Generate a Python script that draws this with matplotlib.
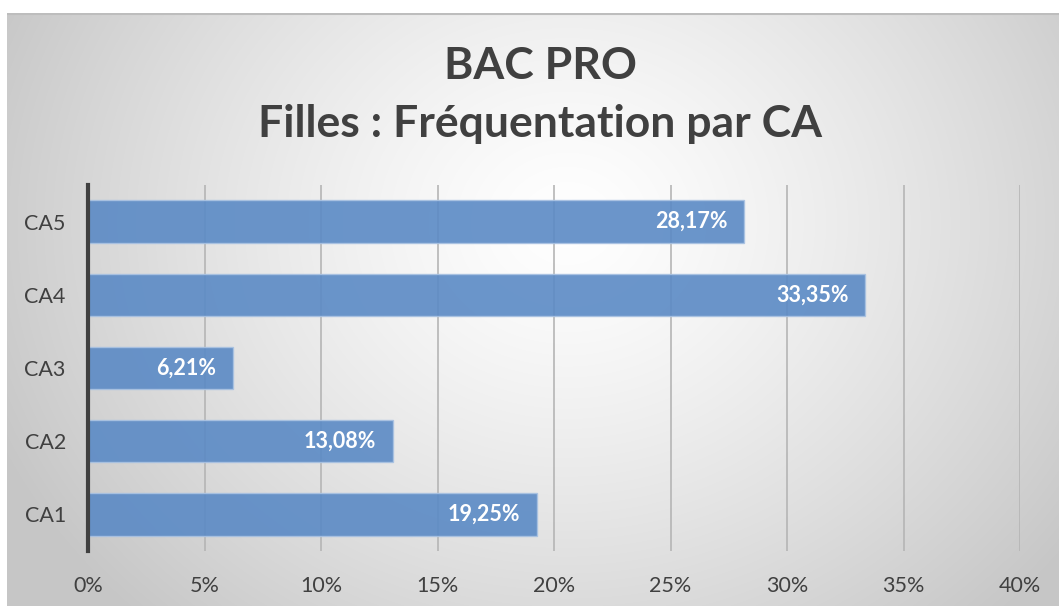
import numpy as np
import matplotlib
matplotlib.use("Agg")
import matplotlib.pyplot as plt

plt.rcParams['font.family'] = ['Lato', 'DejaVu Sans']

categories = ["CA1", "CA2", "CA3", "CA4", "CA5"]
values = [19.25, 13.08, 6.21, 33.35, 28.17]
labels = ["19,25%", "13,08%", "6,21%", "33,35%", "28,17%"]
xticks = [0, 5, 10, 15, 20, 25, 30, 35, 40]

W, H = 1059, 606
fig = plt.figure(figsize=(W / 100, H / 100), dpi=100)
fig.patch.set_facecolor("white")

# radial grey background of the chart area
bg = fig.add_axes([7 / W, 0, 1 - 7 / W, (H - 13) / H], zorder=0)
bw, bh = W - 7, H - 13
yy, xx = np.mgrid[0:bh, 0:bw]
cx, cy = 560, 210
d = np.sqrt((xx - cx) ** 2 + ((yy - cy) * 1.15) ** 2)
g = 1.0 - 0.22 * np.clip(d / 620, 0, 1) ** 1.3
bg.imshow(np.dstack([g, g, g]), aspect="auto", extent=[0, bw, bh, 0])
bg.axhline(0.5, color="#bdbdbd", lw=1.5)
bg.set_axis_off()

# main axes: x from px 88 to 1020, y from 185 to 551
ax = fig.add_axes([88 / W, (H - 551) / H, (1020 - 88) / W, (551 - 185) / H], zorder=1)
ax.patch.set_alpha(0)

ypos = np.arange(len(categories))
ax.barh(ypos, values, height=0.58, color="#5b8ac5", alpha=0.9,
        edgecolor="#a9c2e2", linewidth=1, zorder=2)
for y, v, t in zip(ypos, values, labels):
    ax.text(v - 0.7, y, t, ha="right", va="center", color="white",
            fontsize=15.5, fontweight="bold", zorder=3)

ax.set_xlim(0, 40)
ax.set_ylim(-0.5, 4.5)
ax.set_xticks(xticks)
ax.set_xticklabels([f"{x}%" for x in xticks])
ax.set_yticks(ypos)
ax.set_yticklabels(categories)
ax.xaxis.grid(True, color="#b5b5b5", lw=1.2, zorder=1)
ax.set_axisbelow(True)
ax.tick_params(axis="both", length=0, labelsize=15.5, labelcolor="#404040")
ax.tick_params(axis="x", pad=18)
ax.tick_params(axis="y", pad=16)
for s in ["top", "right", "bottom"]:
    ax.spines[s].set_visible(False)
ax.spines["left"].set_color("#404040")
ax.spines["left"].set_linewidth(3)

fig.text(540 / W, 1 - 66 / H, "BAC PRO", ha="center", va="center",
         fontsize=32, fontweight="bold", color="#404040")
fig.text(540 / W, 1 - 124 / H, "Filles : Fréquentation par CA", ha="center", va="center",
         fontsize=32, fontweight="bold", color="#404040")

fig.savefig("out.png", dpi=100)
